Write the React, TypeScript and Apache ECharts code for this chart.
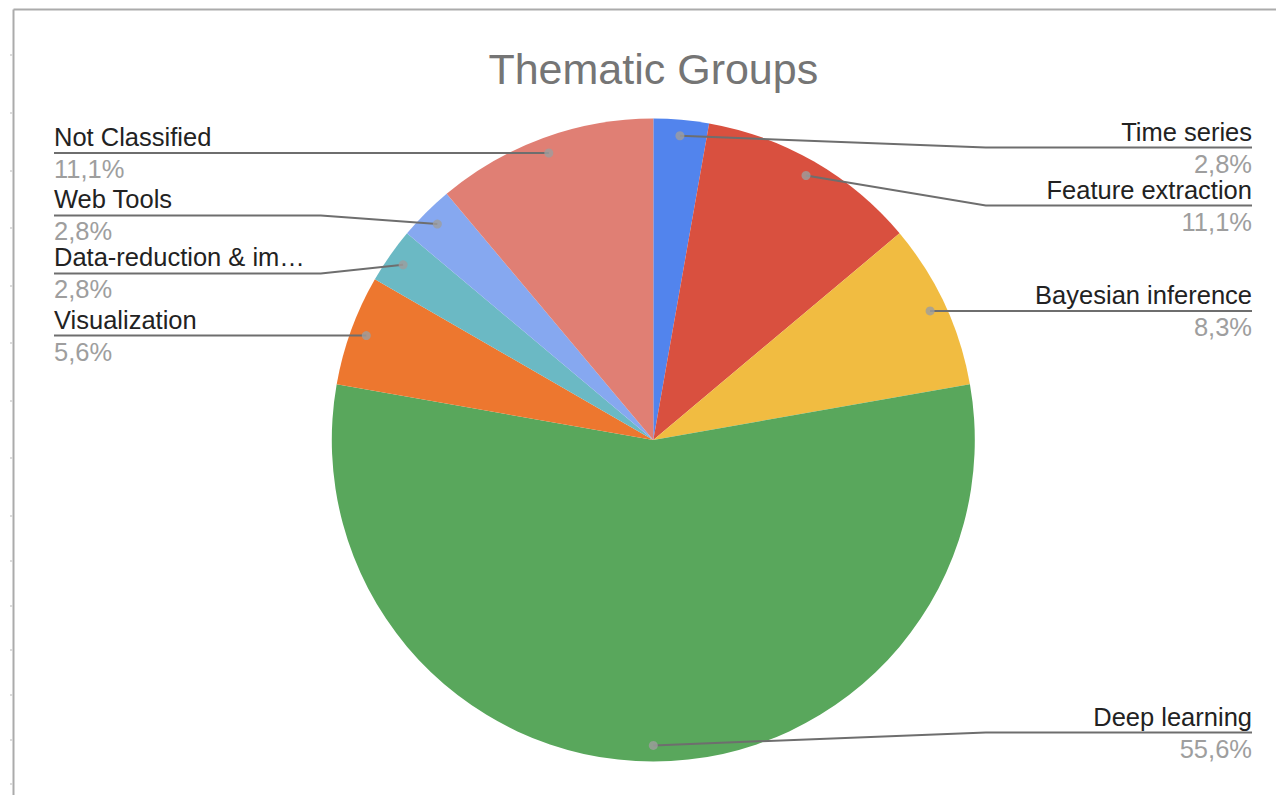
import React, { useEffect, useRef } from "react";
import * as echarts from "echarts";

// ---- data ----
const chartTitle = "Thematic Groups";
const categories = [
  "Time series",
  "Feature extraction",
  "Bayesian inference",
  "Deep learning",
  "Visualization",
  "Data-reduction & im…",
  "Web Tools",
  "Not Classified",
];
const counts = [1, 4, 3, 20, 2, 1, 1, 4];
const sliceColors = [
  "#5284ED",
  "#D9503F",
  "#F1BC41",
  "#59A75C",
  "#ED772F",
  "#6BB9C4",
  "#86A8F0",
  "#E07F74",
];

// ---- layout ----
const W = 1276;
const H = 795;
const CX = 653.3;
const CY = 440;
const R = 321.5;
const DOT_FRAC = 0.95;
const LABEL_BLOCK = 58;
const RIGHT_EDGE = 1252;
const LEFT_EDGE = 54;
const BEND_GAP = 11;
const FONT = "'Liberation Sans', Arial, Helvetica, sans-serif";
const frameTicksY = [55, 113, 171, 228, 286, 343, 401, 458, 516, 561, 606, 650, 695, 740, 784];

const total = counts.reduce((a, b) => a + b, 0);
const mids: number[] = [];
{
  let acc = 0;
  counts.forEach((v) => {
    mids.push(acc + v / 2);
    acc += v;
  });
}
const angles = mids.map((m) => (m / total) * Math.PI * 2);
const isRight = angles.map((a) => a <= Math.PI + 1e-6);
const dotPts = angles.map((a) => [
  CX + R * DOT_FRAC * Math.sin(a),
  CY - R * DOT_FRAC * Math.cos(a),
]);

function resolveSide(idx: number[]): Record<number, number> {
  const sorted = [...idx].sort((a, b) => dotPts[a][1] - dotPts[b][1]);
  const ys = sorted.map((i) => dotPts[i][1]);
  const lo = CY - R + LABEL_BLOCK / 2;
  const hi = CY + R - LABEL_BLOCK / 2;
  for (let it = 0; it < 300; it++) {
    for (let j = 0; j < ys.length; j++) ys[j] = Math.min(hi, Math.max(lo, ys[j]));
    for (let j = 0; j < ys.length - 1; j++) {
      const d = ys[j + 1] - ys[j];
      if (d < LABEL_BLOCK) {
        const p = (LABEL_BLOCK - d) / 2;
        ys[j] -= p;
        ys[j + 1] += p;
      }
    }
  }
  for (let j = 0; j < ys.length; j++) ys[j] = Math.min(hi, Math.max(lo, ys[j]));
  const out: Record<number, number> = {};
  sorted.forEach((i, k) => (out[i] = ys[k]));
  return out;
}
const lineY: Record<number, number> = {
  ...resolveSide(categories.map((_, i) => i).filter((i) => isRight[i])),
  ...resolveSide(categories.map((_, i) => i).filter((i) => !isRight[i])),
};

const pct = (v: number) => ((v / total) * 100).toFixed(1).replace(".", ",") + "%";

export default function App() {
  const ref = useRef<HTMLDivElement>(null);
  useEffect(() => {
    if (!ref.current) return;
    const chart = echarts.init(ref.current, undefined, { renderer: "svg" });
    const graphics: any[] = [
      {
        type: "line",
        shape: { x1: 13.5, y1: 9.5, x2: W, y2: 9.5 },
        style: { stroke: "#ababab", lineWidth: 2 },
        silent: true,
      },
      {
        type: "line",
        shape: { x1: 13.5, y1: 9.5, x2: 13.5, y2: H },
        style: { stroke: "#ababab", lineWidth: 2 },
        silent: true,
      },
      ...frameTicksY.map((y) => ({
        type: "line",
        shape: { x1: 10, y1: y, x2: 12.5, y2: y },
        style: { stroke: "#d0d0d0", lineWidth: 1.5 },
        silent: true,
      })),
    ];
    const pieData = categories.map((c, i) => ({
      name: c,
      value: counts[i],
      itemStyle: { color: sliceColors[i] },
    }));
    chart.setOption({
      animation: false,
      backgroundColor: "#ffffff",
      title: {
        text: chartTitle,
        left: CX - 5,
        textAlign: "center",
        top: 42,
        textStyle: { fontFamily: FONT, fontSize: 43, fontWeight: "normal", color: "#757575" },
      },
      graphic: graphics,
      polar: { center: [CX, CY], radius: R },
      angleAxis: {
        type: "value",
        min: 0,
        max: total,
        startAngle: 90,
        clockwise: true,
        show: false,
      },
      radiusAxis: { type: "value", min: 0, max: 1, show: false },
      series: [
        {
          type: "pie",
          z: 2,
          center: [CX, CY],
          radius: R,
          startAngle: 90,
          clockwise: true,
          silent: true,
          emphasis: { disabled: true },
          itemStyle: { borderWidth: 0 },
          label: { show: false },
          labelLine: { show: false },
          data: pieData,
        },
        {
          type: "pie",
          z: 5,
          center: [CX, CY],
          radius: R,
          startAngle: 90,
          clockwise: true,
          silent: true,
          avoidLabelOverlap: false,
          emphasis: { disabled: true },
          itemStyle: { color: "rgba(0,0,0,0)", borderWidth: 0 },
          data: categories.map((c, i) => ({ name: c, value: counts[i] })),
          label: {
            show: true,
            position: "outside",
            fontFamily: FONT,
            formatter: (p: any) => `{n|${p.name}}\n{p|${pct(p.value)}}`,
            rich: {
              n: { fontFamily: FONT, fontSize: 25.5, color: "#222222", lineHeight: 32 },
              p: { fontFamily: FONT, fontSize: 25.5, color: "#9e9e9e", lineHeight: 32 },
            },
          },
          labelLine: {
            show: true,
            showAbove: true,
            length: 10,
            length2: 10,
            lineStyle: { color: "#6e6e6e", width: 2 },
          },
          labelLayout: (params: any) => {
            const i = params.dataIndex;
            const right = isRight[i];
            const y = lineY[i];
            const [dx, dy] = dotPts[i];
            const bendX = right ? CX + R + BEND_GAP : CX - R - BEND_GAP;
            const endX = right ? RIGHT_EDGE : LEFT_EDGE;
            return {
              x: endX,
              y: y,
              align: right ? "right" : "left",
              verticalAlign: "middle",
              labelLinePoints: [
                [dx, dy],
                [bendX, y],
                [endX, y],
              ],
            };
          },
        },
        {
          type: "scatter",
          coordinateSystem: "polar",
          symbol: "circle",
          symbolSize: 9,
          z: 10,
          silent: true,
          itemStyle: { color: "#9e9e9e" },
          data: mids.map((m) => [DOT_FRAC, m]),
        },
      ],
    });
    return () => chart.dispose();
  }, []);
  return (
    <div
      ref={ref}
      style={{ position: "absolute", left: 0, top: 0, width: W, height: H, background: "#fff" }}
    />
  );
}
